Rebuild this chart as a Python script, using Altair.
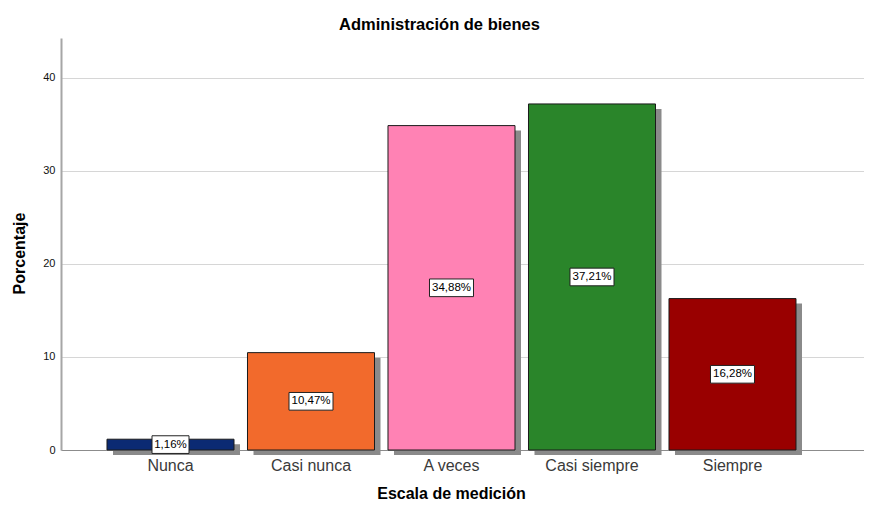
import altair as alt
import pandas as pd

categorias = ["Nunca", "Casi nunca", "A veces", "Casi siempre", "Siempre"]
porcentajes = [1.16, 10.47, 34.88, 37.21, 16.28]
colores = ["#0b2a73", "#f26a2c", "#ff82b4", "#2a852a", "#990000"]

df = pd.DataFrame({"cat": categorias, "pct": porcentajes, "color": colores})

FONT = "Liberation Sans"

x_enc = alt.X(
    "cat:N",
    sort=categorias,
    scale=alt.Scale(paddingInner=0.096, paddingOuter=0.4057, align=0.4035),
    axis=alt.Axis(
        title="Escala de medición",
        labelAngle=0,
        labelFont=FONT,
        labelFontSize=16,
        labelColor="#3a3a3a",
        labelPadding=7,
        ticks=False,
        tickSize=0,
        domainColor="#8c8c8c",
        domainWidth=1,
        titleFont=FONT,
        titleFontSize=16,
        titleFontWeight="bold",
        titleColor="#000000",
        titleX=390,
        titleY=48,
        titleAlign="center",
        titleBaseline="alphabetic",
    ),
)

y_scale = alt.Scale(domain=[0, 44.3], nice=False, zero=True)
y_axis = alt.Axis(
    title="Porcentaje",
    values=[0, 10, 20, 30, 40],
    labelFont=FONT,
    labelFontSize=11,
    labelColor="#111111",
    labelPadding=6,
    ticks=False,
    tickSize=0,
    grid=True,
    gridColor="#d6d6d6",
    gridWidth=1.2,
    domainColor="#a6a6a6",
    domainWidth=2,
    titleFont=FONT,
    titleFontSize=16,
    titleFontWeight="bold",
    titleColor="#000000",
    titleAngle=270,
    titleX=-37,
    titleY=215,
    titleAlign="center",
    titleBaseline="alphabetic",
)

base = alt.Chart(df)

shadow = base.mark_bar(color="#8a8a8a", xOffset=6, yOffset=5).encode(
    x=x_enc,
    y=alt.Y("pct:Q", scale=y_scale, axis=y_axis),
)

bars = base.mark_bar(stroke="#1a1a1a", strokeWidth=1).encode(
    x=alt.X("cat:N", sort=categorias),
    y=alt.Y("pct:Q"),
    fill=alt.Fill("color:N", scale=None),
)

lab = base.transform_calculate(
    mid="datum.pct / 2",
    label="replace(format(datum.pct, '.2f'), '.', ',') + '%'",
).transform_calculate(
    lo="datum.mid - 0.95",
    hi="datum.mid + 0.95",
    bw="length(datum.label) * 7 + 2",
)

boxes = lab.mark_bar(fill="white", stroke="#222222", strokeWidth=1).encode(
    x=alt.X("cat:N", sort=categorias),
    y=alt.Y("lo:Q"),
    y2="hi:Q",
    size=alt.Size("bw:Q", scale=None),
)

texts = lab.mark_text(font=FONT, fontSize=11.5, color="#000000", baseline="middle").encode(
    x=alt.X("cat:N", sort=categorias),
    y=alt.Y("mid:Q"),
    text="label:N",
)

chart = (
    alt.layer(shadow, bars, boxes, texts)
    .properties(
        width=803,
        height=412,
        autosize=alt.AutoSizeParams(type="none"),
        padding={"left": 53, "top": 30, "right": 0, "bottom": 50},
        background="white",
        title=alt.TitleParams(
            "Administración de bienes",
            font=FONT,
            fontSize=16.5,
            fontWeight="bold",
            color="#000000",
            anchor="middle",
            dx=-23,
            offset=5,
        ),
    )
    .configure_view(stroke=None)
)

chart.save("out.html", embed_options={"renderer": "svg", "actions": False})
